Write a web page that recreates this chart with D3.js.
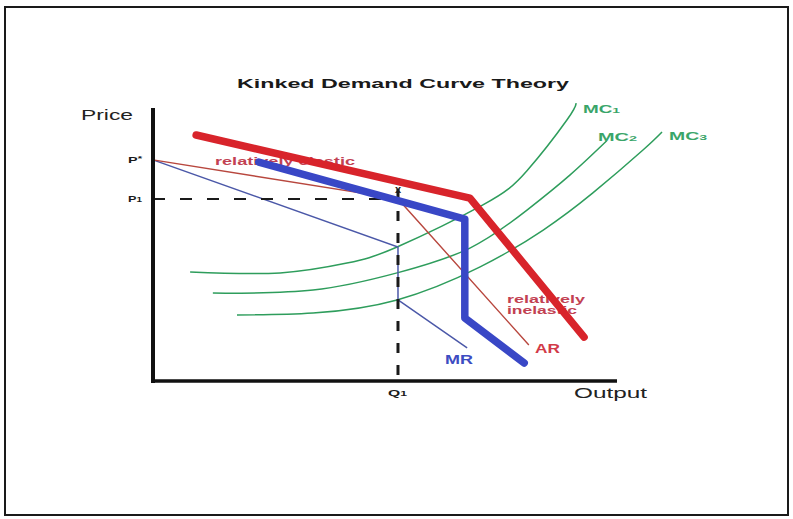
<!DOCTYPE html>
<html>
<head>
<meta charset="utf-8">
<script src="https://cdn.jsdelivr.net/npm/d3@7"></script>
<style>
  body { margin: 0; background: #fff; }
  svg { display: block; font-family: "Liberation Sans", Arial, sans-serif; }
</style>
</head>
<body>
<svg id="chart" width="793" height="519"></svg>
<script>
// price and output levels (0..100 units on each axis)
const pStar = 81.0;
const p1 = 66.7;
const q1 = 52.8;

// kinked demand curve (AR) and its marginal revenue
const arKinked = [[9.3, 90.1], [68.3, 67.0], [92.9, 16.1]];
const mrKinked = [[22.8, 80.2], [67.2, 59.3], [67.2, 23.1], [80.0, 6.6]];

// thin AR / MR from P*
const arThin = [[0, 81.0], [52.8, 66.7], [81.0, 13.2]];
const mrThin = [[0, 81.0], [52.8, 49.1], [52.8, 29.7], [67.7, 12.1]];

// marginal cost curves
const mc1 = [[8.0, 39.9], [27.4, 39.6], [41.8, 43.2], [52.6, 49.1], [71.1, 64.5], [80.6, 77.0], [89.2, 95.6], [91.2, 101.8]];
const mc2 = [[12.9, 32.2], [34.5, 33.3], [52.6, 39.6], [68.3, 48.7], [80.6, 62.6], [89.9, 75.5], [97.8, 88.0]];
const mc3 = [[18.1, 24.2], [34.5, 24.9], [52.6, 29.7], [70.5, 41.8], [84.1, 55.3], [94.8, 68.9], [105.6, 84.6], [109.7, 91.2]];
const mcNames = ["1", "2", "3"];

const svg = d3.select("#chart");

// frame
svg.append("rect")
  .attr("x", 5).attr("y", 7)
  .attr("width", 783).attr("height", 508)
  .attr("fill", "none")
  .attr("stroke", "#1a1a1a")
  .attr("stroke-width", 2);

let x = d3.scaleLinear().domain([0, 100]).range([153, 617]);
let y = d3.scaleLinear().domain([0, 100]).range([381, 108]);

let line = d3.line().x(d => x(d[0])).y(d => y(d[1]));
let curve = d3.line().x(d => x(d[0])).y(d => y(d[1])).curve(d3.curveNatural);

// title
svg.append("text")
  .attr("x", 237).attr("y", 88)
  .attr("font-size", 13.5).attr("font-weight", "bold")
  .attr("fill", "#1a1a1a")
  .attr("textLength", 332).attr("lengthAdjust", "spacingAndGlyphs")
  .text("Kinked Demand Curve Theory");

// MC curves
svg.selectAll(".mc")
  .data([mc1, mc2, mc3])
  .enter()
  .append("path")
  .attr("class", "mc")
  .attr("d", d => curve(d))
  .attr("fill", "none")
  .attr("stroke", "#2e9d5c")
  .attr("stroke-width", 1.5);

// MC labels
let mcLabelPos = [[583, 113, 37], [598, 141, 39], [669, 140, 38]];
mcNames.forEach((n, i) => {
  let t = svg.append("text")
    .attr("x", mcLabelPos[i][0]).attr("y", mcLabelPos[i][1])
    .attr("font-size", 11).attr("font-weight", "bold")
    .attr("fill", "#3aa569")
    .attr("textLength", mcLabelPos[i][2]).attr("lengthAdjust", "spacingAndGlyphs");
  t.append("tspan").text("MC");
  t.append("tspan").attr("font-size", 8).text(n);
});

// thin MR and AR
svg.append("path")
  .attr("d", line(mrThin))
  .attr("fill", "none")
  .attr("stroke", "#4b58a8")
  .attr("stroke-width", 1.5);

svg.append("path")
  .attr("d", line(arThin))
  .attr("fill", "none")
  .attr("stroke", "#b8473e")
  .attr("stroke-width", 1.4);

// curve notes (sit under the thick lines)
svg.append("text")
  .attr("x", 215).attr("y", 165)
  .attr("font-size", 10).attr("font-weight", "bold")
  .attr("fill", "#c24152")
  .attr("textLength", 140).attr("lengthAdjust", "spacingAndGlyphs")
  .text("relatively elastic");

svg.append("text")
  .attr("x", 507).attr("y", 303)
  .attr("font-size", 10).attr("font-weight", "bold")
  .attr("fill", "#c24152")
  .attr("textLength", 78).attr("lengthAdjust", "spacingAndGlyphs")
  .text("relatively");

svg.append("text")
  .attr("x", 507).attr("y", 314)
  .attr("font-size", 10).attr("font-weight", "bold")
  .attr("fill", "#c24152")
  .attr("textLength", 70).attr("lengthAdjust", "spacingAndGlyphs")
  .text("inelastic");

// dashed P1 / Q1 guides
svg.append("line")
  .attr("x1", x(0)).attr("x2", x(q1) - 3)
  .attr("y1", y(p1)).attr("y2", y(p1))
  .attr("stroke", "#1a1a1a")
  .attr("stroke-width", 2)
  .attr("stroke-dasharray", "12,15");

svg.append("line")
  .attr("x1", x(q1)).attr("x2", x(q1))
  .attr("y1", y(p1) - 10).attr("y2", y(0))
  .attr("stroke", "#1a1a1a")
  .attr("stroke-width", 3)
  .attr("stroke-dasharray", "10,12");

svg.append("text")
  .attr("x", x(q1)).attr("y", y(p1) - 6)
  .attr("text-anchor", "middle")
  .attr("font-size", 11).attr("font-weight", "bold")
  .attr("fill", "#1a1a1a")
  .text("x");

// thick kinked MR and AR
svg.append("path")
  .attr("d", line(mrKinked))
  .attr("fill", "none")
  .attr("stroke", "#3947c6")
  .attr("stroke-width", 7.5)
  .attr("stroke-linecap", "round")
  .attr("stroke-linejoin", "round");

svg.append("path")
  .attr("d", line(arKinked))
  .attr("fill", "none")
  .attr("stroke", "#d8242b")
  .attr("stroke-width", 7.5)
  .attr("stroke-linecap", "round")
  .attr("stroke-linejoin", "round");

// AR / MR labels
svg.append("text")
  .attr("x", 535).attr("y", 353)
  .attr("font-size", 12).attr("font-weight", "bold")
  .attr("fill", "#d23a48")
  .attr("textLength", 25).attr("lengthAdjust", "spacingAndGlyphs")
  .text("AR");

svg.append("text")
  .attr("x", 445).attr("y", 364)
  .attr("font-size", 12).attr("font-weight", "bold")
  .attr("fill", "#3d4cc2")
  .attr("textLength", 28).attr("lengthAdjust", "spacingAndGlyphs")
  .text("MR");

// axes
svg.append("line")
  .attr("x1", x(0)).attr("x2", x(0))
  .attr("y1", 108).attr("y2", y(0) + 2)
  .attr("stroke", "#111").attr("stroke-width", 4);

svg.append("line")
  .attr("x1", x(0) - 2).attr("x2", x(100))
  .attr("y1", y(0)).attr("y2", y(0))
  .attr("stroke", "#111").attr("stroke-width", 3.5);

svg.append("text")
  .attr("x", 81).attr("y", 120)
  .attr("font-size", 14)
  .attr("fill", "#222")
  .attr("textLength", 52).attr("lengthAdjust", "spacingAndGlyphs")
  .text("Price");

svg.append("text")
  .attr("x", 574).attr("y", 398)
  .attr("font-size", 14)
  .attr("fill", "#222")
  .attr("textLength", 73).attr("lengthAdjust", "spacingAndGlyphs")
  .text("Output");

// P*, P1, Q1 labels
let pStarLabel = svg.append("text")
  .attr("x", 128).attr("y", y(pStar) + 3)
  .attr("font-size", 9).attr("font-weight", "bold")
  .attr("fill", "#1a1a1a")
  .attr("textLength", 14).attr("lengthAdjust", "spacingAndGlyphs");
pStarLabel.append("tspan").text("P");
pStarLabel.append("tspan").attr("font-size", 7).attr("dy", -2).text("*");

let p1Label = svg.append("text")
  .attr("x", 128).attr("y", y(p1) + 3)
  .attr("font-size", 9).attr("font-weight", "bold")
  .attr("fill", "#1a1a1a")
  .attr("textLength", 14).attr("lengthAdjust", "spacingAndGlyphs");
p1Label.append("tspan").text("P");
p1Label.append("tspan").attr("font-size", 7).text("1");

let q1Label = svg.append("text")
  .attr("x", x(q1) - 10).attr("y", 396)
  .attr("font-size", 9).attr("font-weight", "bold")
  .attr("fill", "#1a1a1a")
  .attr("textLength", 19).attr("lengthAdjust", "spacingAndGlyphs");
q1Label.append("tspan").text("Q");
q1Label.append("tspan").attr("font-size", 7).text("1");
</script>
</body>
</html>
